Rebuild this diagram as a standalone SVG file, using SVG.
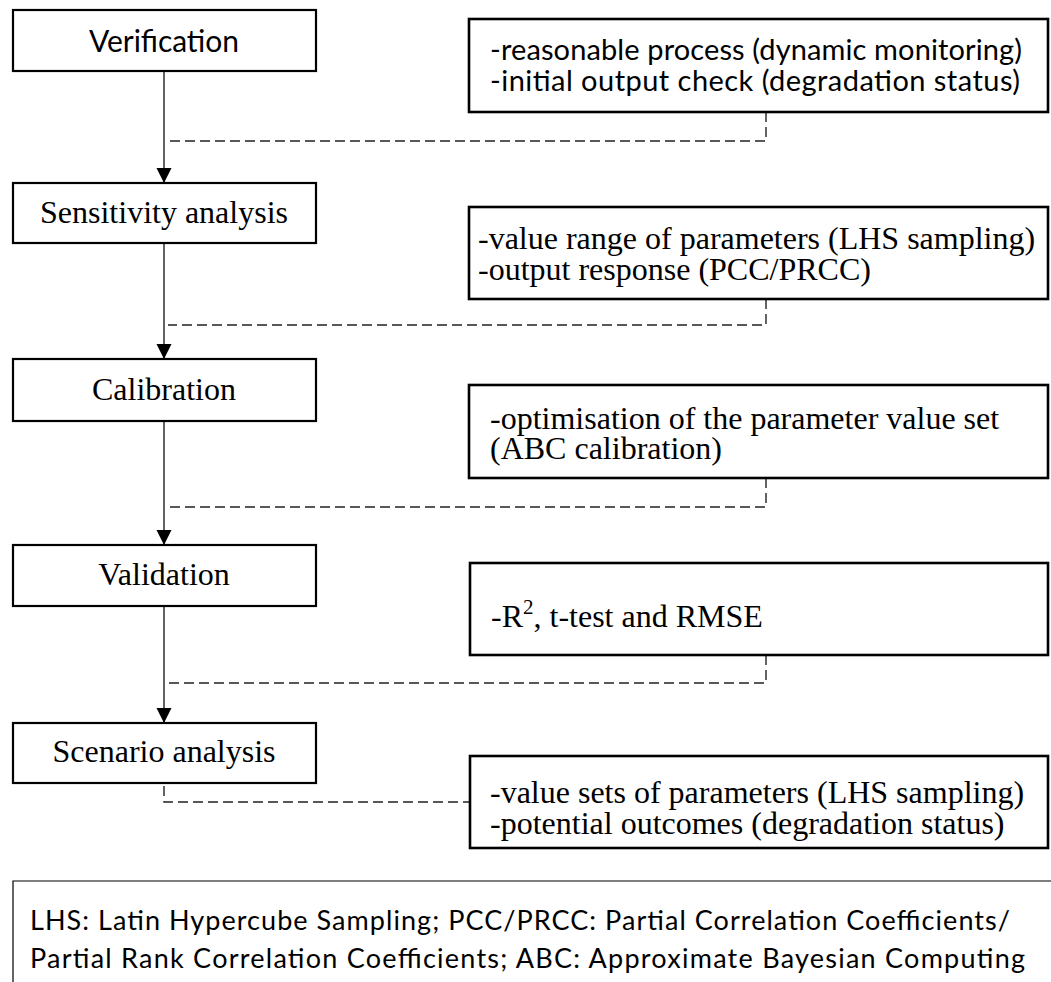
<svg xmlns="http://www.w3.org/2000/svg" width="1051" height="982" viewBox="0 0 1051 982">
<defs>
<style>
.step{fill:#fff;stroke:#000;stroke-width:2.2}
.desc{fill:#fff;stroke:#000;stroke-width:2.6}
.sans{font-family:Lato,"Open Sans","Liberation Sans",sans-serif;fill:#000}
.serif{font-family:"Liberation Serif","Times New Roman",serif;fill:#000}
.flow{stroke:#222;stroke-width:1.4;fill:none}
.dash{stroke:#222;stroke-width:1.4;fill:none;stroke-dasharray:10 5}
</style>
<marker id="arr" markerWidth="16" markerHeight="16" refX="15" refY="7.5" orient="auto" markerUnits="userSpaceOnUse">
<path d="M0,0 L15,7.5 L0,15 Z" fill="#000"/>
</marker>
</defs>
<rect width="1051" height="982" fill="#fff"/>

<g id="connectors">
<line class="flow" x1="164" y1="71" x2="164" y2="183" marker-end="url(#arr)"/>
<line class="flow" x1="164" y1="243" x2="164" y2="359" marker-end="url(#arr)"/>
<line class="flow" x1="164" y1="421" x2="164" y2="545" marker-end="url(#arr)"/>
<line class="flow" x1="164" y1="606" x2="164" y2="723" marker-end="url(#arr)"/>
<path class="dash" d="M766,112 V141 H168"/>
<path class="dash" d="M766,299 V325 H168"/>
<path class="dash" d="M766,478 V507 H168"/>
<path class="dash" d="M766,655 V683 H168"/>
<path class="dash" d="M164,786 V802 H470"/>
</g>

<g id="verification">
<rect class="step" x="13" y="10" width="303" height="61"/>
<text class="sans" x="164" y="52" font-size="30" text-anchor="middle" textLength="150">Verification</text>
</g>
<g id="sensitivity">
<rect class="step" x="13" y="183" width="303" height="60"/>
<text class="serif" x="164" y="223" font-size="32" text-anchor="middle">Sensitivity analysis</text>
</g>
<g id="calibration">
<rect class="step" x="13" y="359" width="303" height="62"/>
<text class="serif" x="164" y="400" font-size="32" text-anchor="middle">Calibration</text>
</g>
<g id="validation">
<rect class="step" x="13" y="545" width="303" height="61"/>
<text class="serif" x="164" y="585" font-size="32" text-anchor="middle">Validation</text>
</g>
<g id="scenario">
<rect class="step" x="13" y="723" width="303" height="60"/>
<text class="serif" x="164" y="762" font-size="32" text-anchor="middle">Scenario analysis</text>
</g>

<g id="desc-verification">
<rect class="desc" x="469" y="19" width="579" height="93"/>
<text class="sans" x="490" y="60" font-size="29" textLength="532">-reasonable process (dynamic monitoring)</text>
<text class="sans" x="490" y="91" font-size="29" textLength="530">-initial output check (degradation status)</text>
</g>
<g id="desc-sensitivity">
<rect class="desc" x="469" y="207" width="579" height="92"/>
<text class="serif" x="478" y="249" font-size="32">-value range of parameters (LHS sampling)</text>
<text class="serif" x="478" y="280" font-size="32">-output response (PCC/PRCC)</text>
</g>
<g id="desc-calibration">
<rect class="desc" x="469" y="385" width="579" height="93"/>
<text class="serif" x="490" y="429" font-size="32">-optimisation of the parameter value set</text>
<text class="serif" x="490" y="459" font-size="32">(ABC calibration)</text>
</g>
<g id="desc-validation">
<rect class="desc" x="470" y="563" width="578" height="92"/>
<text class="serif" x="491" y="627" font-size="32">-R<tspan font-size="21" dy="-13">2</tspan><tspan dy="13">, t-test and RMSE</tspan></text>
</g>
<g id="desc-scenario">
<rect class="desc" x="470" y="756" width="578" height="92"/>
<text class="serif" x="490" y="803" font-size="32">-value sets of parameters (LHS sampling)</text>
<text class="serif" x="490" y="834" font-size="32">-potential outcomes (degradation status)</text>
</g>

<g id="footnote">
<path d="M13,982 V881 H1051" fill="none" stroke="#000" stroke-width="1.2"/>
<text class="sans" x="30" y="930" font-size="27" textLength="980">LHS: Latin Hypercube Sampling; PCC/PRCC: Partial Correlation Coefficients/</text>
<text class="sans" x="30" y="968" font-size="27" textLength="995">Partial Rank Correlation Coefficients; ABC: Approximate Bayesian Computing</text>
</g>
</svg>
